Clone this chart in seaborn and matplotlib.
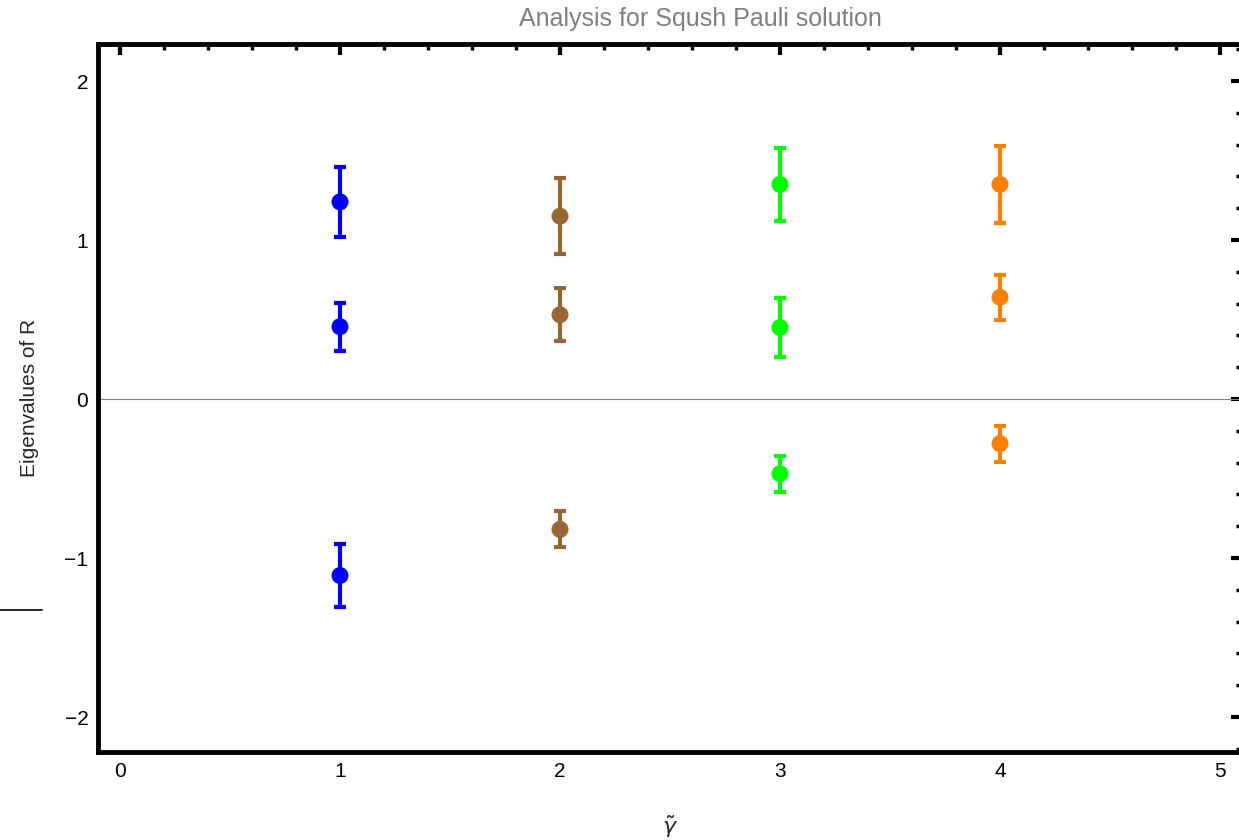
import numpy as np
import pandas as pd
import matplotlib
matplotlib.use("Agg")
import matplotlib.pyplot as plt
from matplotlib.lines import Line2D
from matplotlib.ticker import MultipleLocator
import seaborn as sns

# data
gamma = [1, 1, 1, 2, 2, 2, 3, 3, 3, 4, 4, 4]
eigen = [1.24, 0.455, -1.11, 1.15, 0.53, -0.82, 1.35, 0.45, -0.47, 1.35, 0.64, -0.28]
err = [0.22, 0.15, 0.20, 0.24, 0.167, 0.113, 0.23, 0.185, 0.113, 0.24, 0.14, 0.113]
group = ["g1"] * 3 + ["g2"] * 3 + ["g3"] * 3 + ["g4"] * 3
colors = {"g1": "#0000FF", "g2": "#996633", "g3": "#00FF00", "g4": "#FF8000"}

df = pd.DataFrame({"gamma": gamma, "eigen": eigen, "err": err, "group": group})

sns.set_style("white")
plt.rcParams["font.family"] = ["Liberation Sans", "DejaVu Sans"]

fig = plt.figure(figsize=(12.39, 8.4), dpi=100)
ax = fig.add_axes([98 / 1239, 1 - 752 / 840, (1242 - 98) / 1239, (752 - 44) / 840])

# zero line
ax.axhline(0, color="#808080", lw=0.8, zorder=1)

for g, sub in df.groupby("group"):
    ax.errorbar(sub["gamma"], sub["eigen"], yerr=sub["err"], fmt="none",
                ecolor=colors[g], elinewidth=3, capsize=4.3, capthick=3, zorder=2)

sns.scatterplot(data=df, x="gamma", y="eigen", hue="group", palette=colors,
                s=150, edgecolor="none", legend=False, ax=ax, zorder=3)

ax.set_xlim(-0.1, 5.1)
ax.set_ylim(-2.22, 2.233)
ax.xaxis.set_minor_locator(MultipleLocator(0.2))
ax.yaxis.set_minor_locator(MultipleLocator(0.2))
ax.set_xticks([0, 1, 2, 3, 4, 5])
ax.set_yticks([-2, -1, 0, 1, 2])
ax.set_yticklabels(["\u22122", "\u22121", "0", "1", "2"])

ax.tick_params(which="both", direction="in", top=True, right=True,
               color="black", labelsize=15, labelcolor="black")
ax.tick_params(which="major", length=8, width=3, pad=7)
ax.tick_params(which="minor", length=4, width=2.5)

for sp in ax.spines.values():
    sp.set_visible(True)
    sp.set_linewidth(3.5)
    sp.set_color("black")

ax.set_xlabel(r"$\tilde{\gamma}$", fontsize=16, labelpad=24)
ax.set_ylabel("Eigenvalues of R", fontsize=15, labelpad=18)
fig.text(700 / 1239, 1 - 19 / 840, "Analysis for Sqush Pauli solution",
         ha="center", va="center", fontsize=18, color="#808080")

# small stray mark left of the frame
fig.add_artist(Line2D([0, 42 / 1239], [1 - 610 / 840, 1 - 610 / 840],
                      color="black", lw=1.2, transform=fig.transFigure))

fig.savefig("out.png", dpi=100)
